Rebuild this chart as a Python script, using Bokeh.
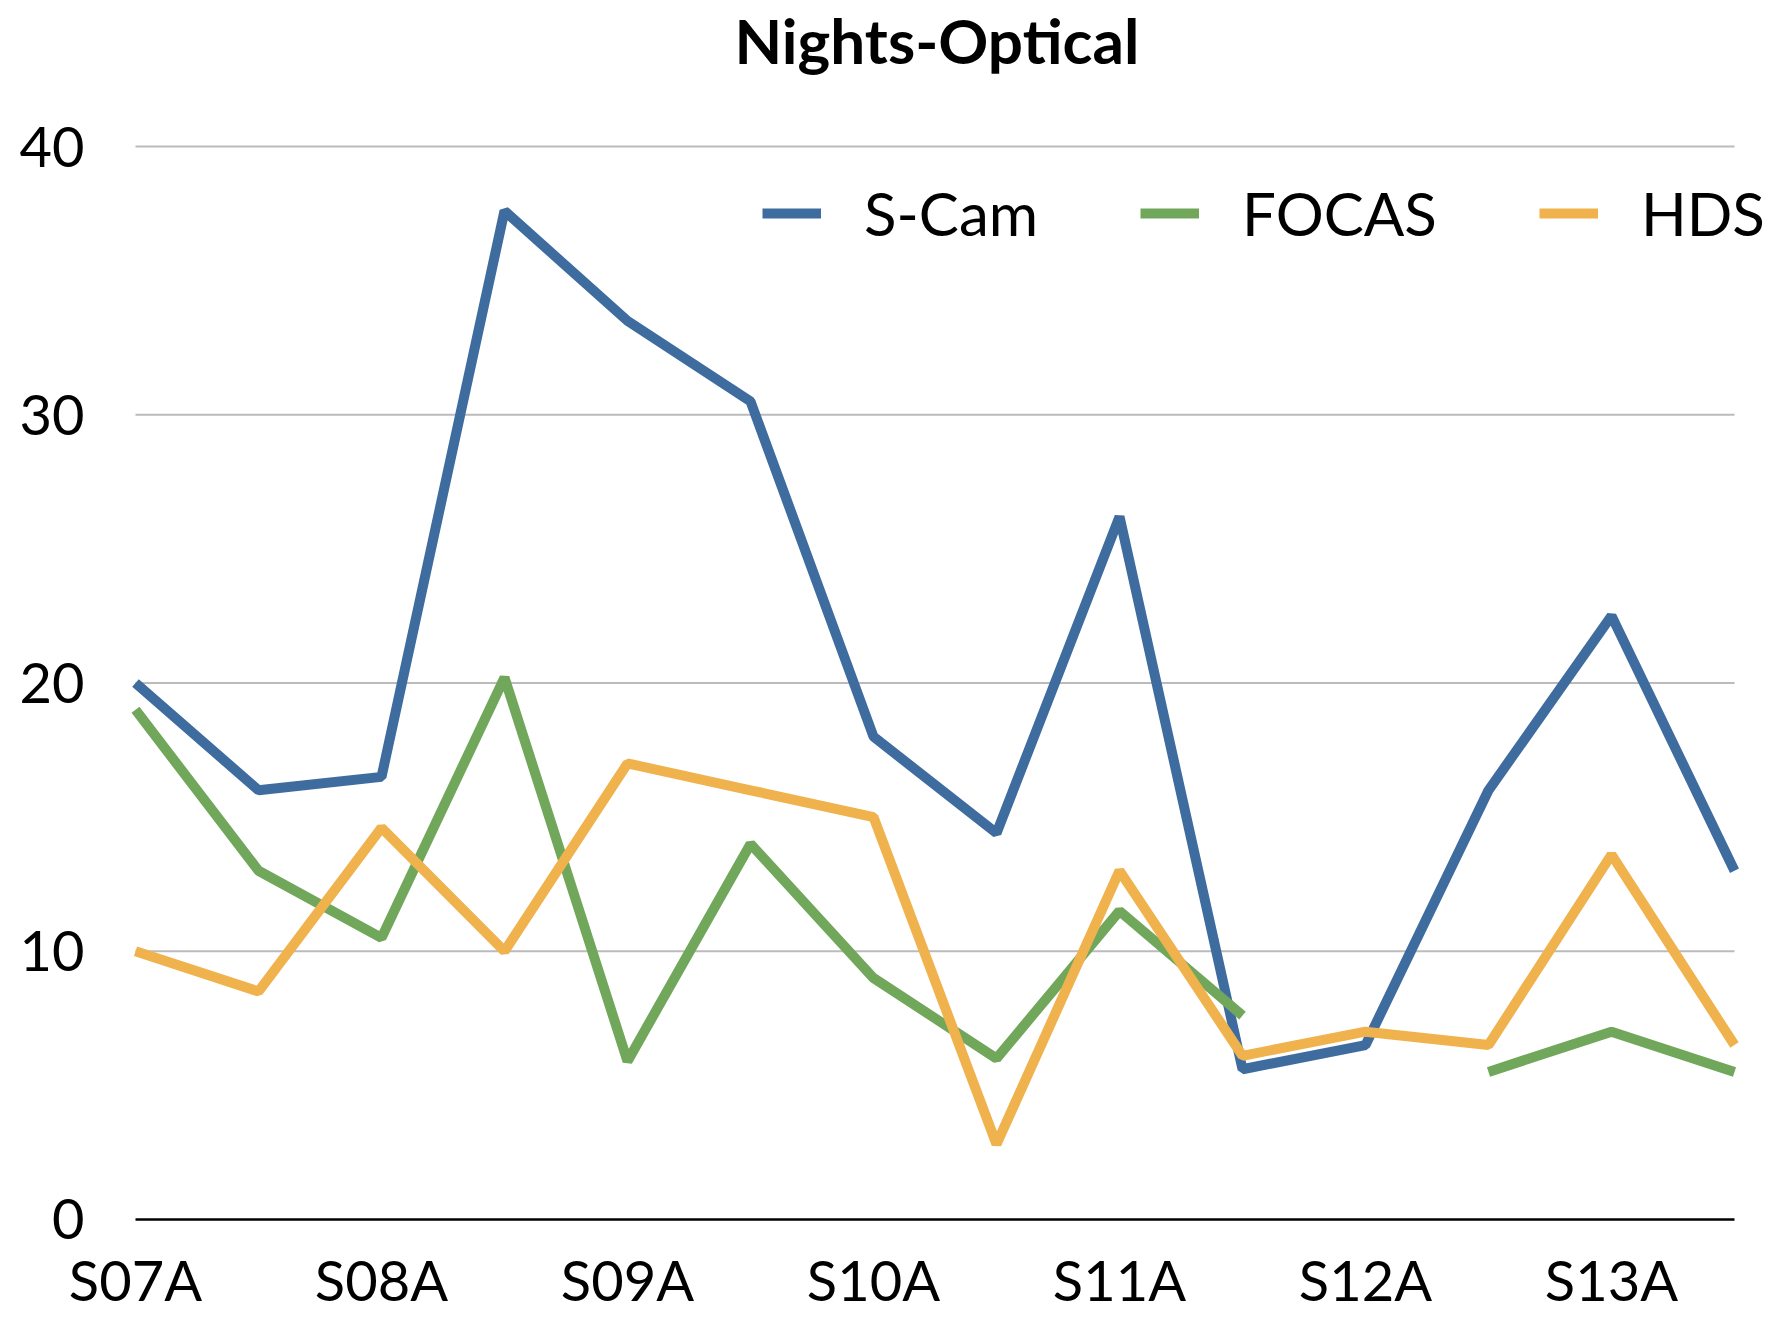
from bokeh.plotting import figure
from bokeh.models import Range1d, FixedTicker, Legend, LegendItem
from bokeh.embed import file_html
from bokeh.resources import INLINE
import numpy as np

semesters = ["S07A", "S07B", "S08A", "S08B", "S09A", "S09B", "S10A",
             "S10B", "S11A", "S11B", "S12A", "S12B", "S13A", "S13B"]
scam = [20.0, 16.0, 16.5, 37.6, 33.5, 30.5, 18.0, 14.4, 26.2, 5.6, 6.5, 16.0, 22.5, 13.0]
focas = [19.0, 13.0, 10.5, 20.2, 5.9, 14.0, 9.0, 6.0, 11.5, 7.6, np.nan, 5.5, 7.0, 5.5]
hds = [10.0, 8.5, 14.6, 10.0, 17.0, 16.0, 15.0, 2.8, 13.0, 6.1, 7.0, 6.5, 13.6, 6.5]
y_ticks = [0, 10, 20, 30, 40]

FONT = "Lato"
n = len(semesters)
x = list(range(n))

# layout in pixels (figure coordinates)
W, H = 1767, 1319
data_left, data_right = 135, 1734
y40_px, y0_px = 147, 1219
frame_top_est = 77  # height of the title panel (zero standoff)
px_x = (data_right - data_left) / (n - 1)
unit = (y0_px - y40_px) / 40.0
x_start = -data_left / px_x
x_end = (n - 1) + (W - data_right) / px_x
y_start = -(H - y0_px) / unit
y_end = 40 + (y40_px - frame_top_est) / unit

p = figure(width=W, height=H, output_backend="svg", toolbar_location=None,
           x_range=Range1d(x_start, x_end), y_range=Range1d(y_start, y_end),
           min_border_left=0, min_border_right=0,
           min_border_top=0, min_border_bottom=0)
p.outline_line_color = None
p.title.text = "Nights-Optical"
p.title.text_font = FONT
p.title.text_font_style = "bold"
p.title.text_font_size = "62px"
p.title.text_color = "black"
p.title.align = "left"
p.title.offset = 734
p.title.standoff = 0

p.xgrid.grid_line_color = None
p.ygrid.grid_line_color = None
p.segment(x0=0, x1=n - 1, y0=y_ticks[1:], y1=y_ticks[1:],
          line_color="#BBBBBB", line_width=2)

r1 = p.line(x, scam, line_color="#3F6C9F", line_width=10)
r2 = p.line(x, focas, line_color="#70A75A", line_width=10)
r3 = p.line(x, hds, line_color="#EFB24D", line_width=10)

p.yaxis.fixed_location = 0
p.yaxis.ticker = FixedTicker(ticks=y_ticks)
p.yaxis.axis_line_color = None
p.yaxis.major_tick_line_color = None
p.yaxis.minor_tick_line_color = None
p.yaxis.major_label_text_font = FONT
p.yaxis.major_label_text_font_size = "56px"
p.yaxis.major_label_text_color = "black"
p.yaxis.major_label_standoff = 45

p.xaxis.fixed_location = 0
p.xaxis.ticker = FixedTicker(ticks=x[::2])
p.xaxis.major_label_overrides = {i: semesters[i] for i in x[::2]}
p.xaxis.bounds = (0, n - 1)
p.xaxis.axis_line_color = "black"
p.xaxis.axis_line_width = 2.5
p.xaxis.major_tick_line_color = None
p.xaxis.minor_tick_line_color = None
p.xaxis.major_label_text_font = FONT
p.xaxis.major_label_text_font_size = "56px"
p.xaxis.major_label_text_color = "black"
p.xaxis.major_label_standoff = 21

legend = Legend(items=[LegendItem(label="S-Cam", renderers=[r1]),
                       LegendItem(label="FOCAS", renderers=[r2]),
                       LegendItem(label="HDS", renderers=[r3])],
                orientation="horizontal", location=(762, H - 215 - 34),
                label_text_font=FONT, label_text_font_size="60px",
                label_text_color="black",
                label_standoff=43, glyph_width=59, spacing=102,
                padding=0, margin=0, border_line_color=None,
                background_fill_alpha=0)
p.add_layout(legend, "center")

open("out.html", "w").write(file_html(p, INLINE))
